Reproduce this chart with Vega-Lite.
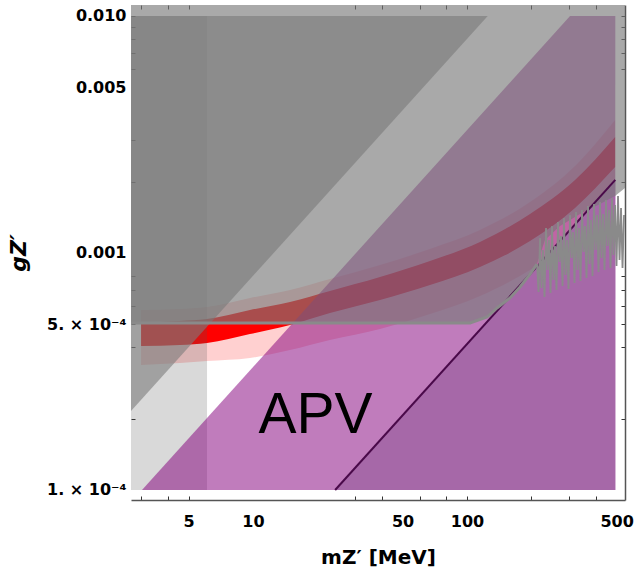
{
  "$schema": "https://vega.github.io/schema/vega-lite/v6.json",
  "width": 494,
  "height": 495,
  "autosize": {"type": "none"},
  "padding": {"left": 131, "top": 5, "right": 9, "bottom": 76},
  "background": "white",
  "config": {"view": {"stroke": null}},
  "datasets": {
    "outer": [
      {"m": 3, "lo": 0.0003368, "hi": 0.0005748},
      {"m": 4.56, "lo": 0.0003434, "hi": 0.0005804},
      {"m": 6.1, "lo": 0.0003502, "hi": 0.0005918},
      {"m": 9.68, "lo": 0.0003606, "hi": 0.0006458},
      {"m": 14.89, "lo": 0.0003897, "hi": 0.0006981},
      {"m": 22.89, "lo": 0.0004295, "hi": 0.0007768},
      {"m": 39.22, "lo": 0.0004778, "hi": 0.0008899},
      {"m": 67.15, "lo": 0.0005527, "hi": 0.00104},
      {"m": 115, "lo": 0.0006585, "hi": 0.00125},
      {"m": 197, "lo": 0.0008479, "hi": 0.001641},
      {"m": 319.7, "lo": 0.001157, "hi": 0.002329},
      {"m": 492, "lo": 0.00174, "hi": 0.003641}
    ],
    "inner": [
      {"m": 3, "lo": 0.0004052, "hi": 0.0005065},
      {"m": 4.56, "lo": 0.0004091, "hi": 0.0005165},
      {"m": 6.1, "lo": 0.0004172, "hi": 0.0005266},
      {"m": 9.68, "lo": 0.0004551, "hi": 0.0005748},
      {"m": 14.89, "lo": 0.0004968, "hi": 0.000621},
      {"m": 22.89, "lo": 0.0005581, "hi": 0.0006912},
      {"m": 39.22, "lo": 0.0006333, "hi": 0.0007916},
      {"m": 67.15, "lo": 0.0007328, "hi": 0.0009252},
      {"m": 115, "lo": 0.000873, "hi": 0.001113},
      {"m": 197, "lo": 0.001123, "hi": 0.001461},
      {"m": 319.7, "lo": 0.001549, "hi": 0.002032},
      {"m": 492, "lo": 0.002306, "hi": 0.003088}
    ],
    "strip": [{"m0": 2.692, "m1": 6.1, "g0": 0.0001, "g1": 0.01}],
    "apv": [
      {"m": 3.03, "g": 0.0001, "g0": 0.0001},
      {"m": 303, "g": 0.01, "g0": 0.0001},
      {"m": 493, "g": 0.01, "g0": 0.0001}
    ],
    "dark": [
      {"m": 24.2, "g": 0.0001, "g0": 0.0001},
      {"m": 493, "g": 0.002036, "g0": 0.0001}
    ],
    "pline": [
      {"m": 24.2, "g": 0.0001},
      {"m": 493, "g": 0.002036}
    ],
    "dreg": [
      {"m": 2.692, "g": 0.01, "g0": 0.0002154},
      {"m": 125, "g": 0.01, "g0": 0.01}
    ],
    "areg": [
      {"m": 2.692, "g": 0.011127, "g0": 0.0005065},
      {"m": 103.3, "g": 0.011127, "g0": 0.0005065},
      {"m": 124.1, "g": 0.011127, "g0": 0.000537},
      {"m": 138.1, "g": 0.011127, "g0": 0.000586},
      {"m": 158.8, "g": 0.011127, "g0": 0.000646},
      {"m": 176.9, "g": 0.011127, "g0": 0.000719},
      {"m": 197, "g": 0.011127, "g0": 0.000815},
      {"m": 212.4, "g": 0.011127, "g0": 0.000898},
      {"m": 231.4, "g": 0.011127, "g0": 0.001135},
      {"m": 272.0, "g": 0.011127, "g0": 0.0013},
      {"m": 337.4, "g": 0.011127, "g0": 0.001461},
      {"m": 418.3, "g": 0.011127, "g0": 0.00161},
      {"m": 491.6, "g": 0.011127, "g0": 0.00174},
      {"m": 547.3, "g": 0.011127, "g0": 0.00188}
    ],
    "aline": [
      {"m": 2.692, "g": 0.0005065},
      {"m": 103.3, "g": 0.0005065},
      {"m": 124.1, "g": 0.000537},
      {"m": 138.1, "g": 0.000586},
      {"m": 158.8, "g": 0.000646},
      {"m": 176.9, "g": 0.000719},
      {"m": 197, "g": 0.000815},
      {"m": 212.4, "g": 0.000898}
    ],
    "noise": [
      {"m": 212.4, "g": 0.0008986},
      {"m": 215.9, "g": 0.0006846},
      {"m": 219.4, "g": 0.001157},
      {"m": 222.9, "g": 0.0007117},
      {"m": 226.5, "g": 0.001029},
      {"m": 230.2, "g": 0.0006521},
      {"m": 234.0, "g": 0.001275},
      {"m": 237.8, "g": 0.0008477},
      {"m": 241.6, "g": 0.001135},
      {"m": 245.6, "g": 0.000678},
      {"m": 249.6, "g": 0.0013},
      {"m": 253.6, "g": 0.0007692},
      {"m": 257.7, "g": 0.00107},
      {"m": 261.9, "g": 0.000698},
      {"m": 266.2, "g": 0.001352},
      {"m": 270.5, "g": 0.0009163},
      {"m": 274.9, "g": 0.00118},
      {"m": 279.4, "g": 0.0007257},
      {"m": 283.9, "g": 0.001405},
      {"m": 288.5, "g": 0.0008075},
      {"m": 293.3, "g": 0.001135},
      {"m": 298.0, "g": 0.0007048},
      {"m": 302.9, "g": 0.001447},
      {"m": 307.8, "g": 0.0009526},
      {"m": 312.8, "g": 0.001226},
      {"m": 317.9, "g": 0.0007471},
      {"m": 323.1, "g": 0.001489},
      {"m": 328.3, "g": 0.0008477},
      {"m": 333.7, "g": 0.001275},
      {"m": 339.1, "g": 0.0007618},
      {"m": 344.6, "g": 0.001519},
      {"m": 350.2, "g": 0.00101},
      {"m": 355.9, "g": 0.0013},
      {"m": 361.7, "g": 0.0007843},
      {"m": 367.6, "g": 0.001579},
      {"m": 373.6, "g": 0.0008986},
      {"m": 379.7, "g": 0.001378},
      {"m": 385.8, "g": 0.0007997},
      {"m": 392.1, "g": 0.00161},
      {"m": 398.5, "g": 0.001029},
      {"m": 405.0, "g": 0.001447},
      {"m": 411.6, "g": 0.0008314},
      {"m": 418.3, "g": 0.001641},
      {"m": 425.1, "g": 0.0009526},
      {"m": 432.0, "g": 0.001461},
      {"m": 439.0, "g": 0.0008477},
      {"m": 446.2, "g": 0.001673},
      {"m": 453.4, "g": 0.00107},
      {"m": 460.8, "g": 0.001519},
      {"m": 468.3, "g": 0.0008644},
      {"m": 475.9, "g": 0.001706},
      {"m": 483.7, "g": 0.0009808},
      {"m": 491.6, "g": 0.001594},
      {"m": 499.6, "g": 0.0008813},
      {"m": 507.7, "g": 0.00174},
      {"m": 516.0, "g": 0.0009343},
      {"m": 524.4, "g": 0.001548},
      {"m": 532.9, "g": 0.0008644},
      {"m": 541.6, "g": 0.001447}
    ],
    "label": [{"m": 19.6, "g": 0.0001739, "text": "APV"}]
  },
  "resolve": {"axis": {"x": "independent", "y": "independent"}},
  "layer": [
    {
      "data": {"name": "outer"},
      "mark": {"type": "area", "color": "#ffd0d0", "interpolate": "monotone", "clip": true},
      "encoding": {
        "x": {"field": "m", "type": "quantitative",
          "scale": {"type": "log", "domain": [2.692, 547.3], "nice": false, "zero": false},
          "axis": {"orient": "bottom", "values": [3, 4, 5, 10, 30, 40, 50, 60, 80, 100, 200, 300, 400, 500],
            "labelExpr": "indexof([5, 10, 50, 100, 500], datum.value) >= 0 ? format(datum.value, 'd') : ''",
            "tickOpacity": {"condition": {"test": "datum.value == 10 || datum.value == 50 || datum.value == 500", "value": 0}, "value": 1},
            "tickSize": -4, "tickColor": "#333333", "domainColor": "#555555", "domainWidth": 1.5,
            "labelPadding": 17, "labelFont": "DejaVu Sans", "labelFontSize": 16, "labelFontWeight": "bold", "labelColor": "black",
            "labelOverlap": false, "labelFlush": false, "grid": false,
            "title": "mZ′ [MeV]", "titleFont": "DejaVu Sans", "titleFontSize": 20, "titleFontWeight": "bold", "titleColor": "black", "titlePadding": 18}},
        "y": {"field": "hi", "type": "quantitative",
          "scale": {"type": "log", "domain": [0.00009074, 0.011127], "nice": false, "zero": false},
          "axis": {"orient": "left",
            "values": [0.0001, 0.0002, 0.0004, 0.0005, 0.0006, 0.0007, 0.0008, 0.001, 0.002, 0.003, 0.005, 0.006, 0.007, 0.008, 0.009, 0.01],
            "labelExpr": "datum.value == 0.01 ? '0.010' : datum.value == 0.005 ? '0.005' : datum.value == 0.001 ? '0.001' : datum.value == 0.0005 ? '5. × 10⁻⁴' : datum.value == 0.0001 ? '1. × 10⁻⁴' : ''",
            "tickOpacity": {"condition": {"test": "datum.value == 0.005 || datum.value == 0.001 || datum.value == 0.0001", "value": 0}, "value": 1},
            "tickSize": -4, "tickColor": "#333333", "domain": false,
            "labelPadding": 9, "labelFont": "DejaVu Sans", "labelFontSize": 16, "labelFontWeight": "bold", "labelColor": "black",
            "labelOverlap": false, "labelFlush": false, "grid": false,
            "title": "gZ′", "titleFont": "DejaVu Sans", "titleFontSize": 22, "titleFontWeight": "bold", "titleFontStyle": "italic", "titleColor": "black", "titlePadding": 16}},
        "y2": {"field": "lo"}
      }
    },
    {
      "data": {"name": "inner"},
      "mark": {"type": "area", "color": "#ff0000", "interpolate": "monotone", "clip": true},
      "encoding": {
        "x": {"field": "m", "type": "quantitative",
          "scale": {"type": "log", "domain": [2.692, 547.3], "nice": false, "zero": false},
          "axis": {"orient": "top", "values": [3, 4, 5, 30, 40, 60, 80, 100, 200, 300, 400],
            "labels": false, "domain": false, "tickSize": -4, "tickColor": "#333333", "grid": false, "title": null}},
        "y": {"field": "hi", "type": "quantitative",
          "scale": {"type": "log", "domain": [0.00009074, 0.011127], "nice": false, "zero": false},
          "axis": {"orient": "right",
            "values": [0.0002, 0.0004, 0.0005, 0.0006, 0.0007, 0.0008, 0.002, 0.003, 0.006, 0.007, 0.008, 0.009, 0.01],
            "labels": false, "domain": true, "domainColor": "#555555", "domainWidth": 1.5, "tickSize": -4, "tickColor": "#333333", "grid": false, "title": null}},
        "y2": {"field": "lo"}
      }
    },
    {
      "data": {"name": "strip"},
      "mark": {"type": "rect", "color": "#545454", "opacity": 0.22, "clip": true},
      "encoding": {
        "x": {"field": "m0", "type": "quantitative", "scale": {"type": "log", "domain": [2.692, 547.3], "nice": false, "zero": false}, "axis": null},
        "x2": {"field": "m1"},
        "y": {"field": "g0", "type": "quantitative", "scale": {"type": "log", "domain": [0.00009074, 0.011127], "nice": false, "zero": false}, "axis": null},
        "y2": {"field": "g1"}
      }
    },
    {
      "data": {"name": "apv"},
      "mark": {"type": "area", "color": "#84007d", "opacity": 0.514, "clip": true},
      "encoding": {
        "x": {"field": "m", "type": "quantitative", "scale": {"type": "log", "domain": [2.692, 547.3], "nice": false, "zero": false}, "axis": null},
        "y": {"field": "g", "type": "quantitative", "scale": {"type": "log", "domain": [0.00009074, 0.011127], "nice": false, "zero": false}, "axis": null},
        "y2": {"field": "g0"}
      }
    },
    {
      "data": {"name": "dark"},
      "mark": {"type": "area", "color": "#a668a8", "clip": true},
      "encoding": {
        "x": {"field": "m", "type": "quantitative", "scale": {"type": "log", "domain": [2.692, 547.3], "nice": false, "zero": false}, "axis": null},
        "y": {"field": "g", "type": "quantitative", "scale": {"type": "log", "domain": [0.00009074, 0.011127], "nice": false, "zero": false}, "axis": null},
        "y2": {"field": "g0"}
      }
    },
    {
      "data": {"name": "dreg"},
      "mark": {"type": "area", "color": "#7b7b7b", "opacity": 0.6, "clip": true},
      "encoding": {
        "x": {"field": "m", "type": "quantitative", "scale": {"type": "log", "domain": [2.692, 547.3], "nice": false, "zero": false}, "axis": null},
        "y": {"field": "g", "type": "quantitative", "scale": {"type": "log", "domain": [0.00009074, 0.011127], "nice": false, "zero": false}, "axis": null},
        "y2": {"field": "g0"}
      }
    },
    {
      "data": {"name": "areg"},
      "mark": {"type": "area", "color": "#787878", "opacity": 0.64, "clip": true},
      "encoding": {
        "x": {"field": "m", "type": "quantitative", "scale": {"type": "log", "domain": [2.692, 547.3], "nice": false, "zero": false}, "axis": null},
        "y": {"field": "g", "type": "quantitative", "scale": {"type": "log", "domain": [0.00009074, 0.011127], "nice": false, "zero": false}, "axis": null},
        "y2": {"field": "g0"}
      }
    },
    {
      "data": {"name": "pline"},
      "mark": {"type": "line", "color": "#4a0a4a", "strokeWidth": 2, "clip": true},
      "encoding": {
        "x": {"field": "m", "type": "quantitative", "scale": {"type": "log", "domain": [2.692, 547.3], "nice": false, "zero": false}, "axis": null},
        "y": {"field": "g", "type": "quantitative", "scale": {"type": "log", "domain": [0.00009074, 0.011127], "nice": false, "zero": false}, "axis": null}
      }
    },
    {
      "data": {"name": "aline"},
      "mark": {"type": "line", "color": "#8a8a8a", "strokeWidth": 3, "clip": true},
      "encoding": {
        "x": {"field": "m", "type": "quantitative", "scale": {"type": "log", "domain": [2.692, 547.3], "nice": false, "zero": false}, "axis": null},
        "y": {"field": "g", "type": "quantitative", "scale": {"type": "log", "domain": [0.00009074, 0.011127], "nice": false, "zero": false}, "axis": null}
      }
    },
    {
      "data": {"name": "noise"},
      "mark": {"type": "line", "color": "#8a8a8a", "strokeWidth": 1.8, "strokeJoin": "bevel", "clip": true},
      "encoding": {
        "x": {"field": "m", "type": "quantitative", "scale": {"type": "log", "domain": [2.692, 547.3], "nice": false, "zero": false}, "axis": null},
        "y": {"field": "g", "type": "quantitative", "scale": {"type": "log", "domain": [0.00009074, 0.011127], "nice": false, "zero": false}, "axis": null}
      }
    },
    {
      "data": {"name": "label"},
      "mark": {"type": "text", "font": "Liberation Sans", "fontSize": 57, "color": "black", "align": "center", "baseline": "alphabetic"},
      "encoding": {
        "x": {"field": "m", "type": "quantitative", "scale": {"type": "log", "domain": [2.692, 547.3], "nice": false, "zero": false}, "axis": null},
        "y": {"field": "g", "type": "quantitative", "scale": {"type": "log", "domain": [0.00009074, 0.011127], "nice": false, "zero": false}, "axis": null},
        "text": {"field": "text"}
      }
    }
  ]
}
